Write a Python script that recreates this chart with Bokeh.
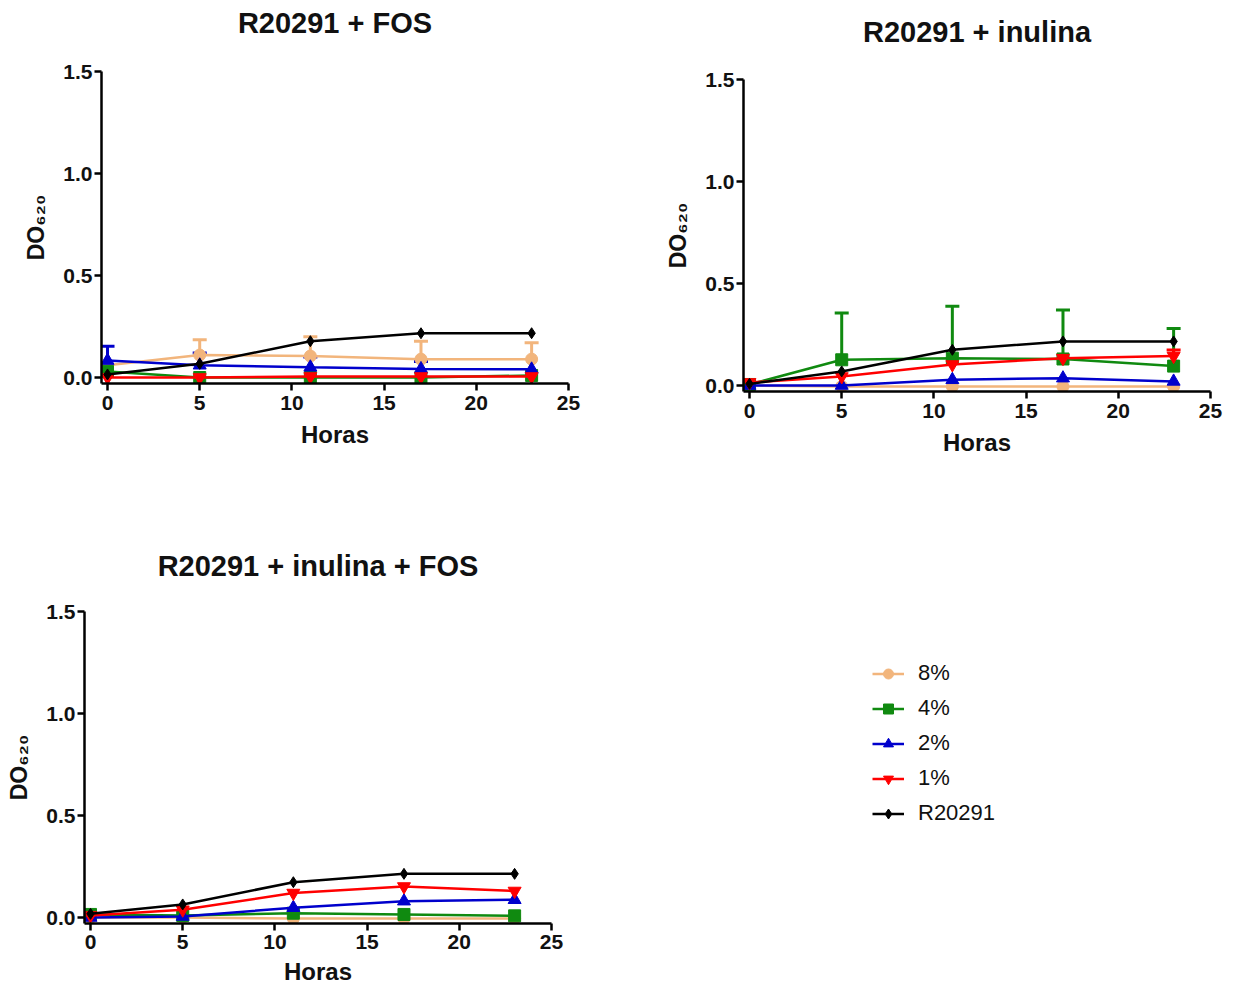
from bokeh.plotting import figure
from bokeh.models import (Range1d, Legend, LegendItem, Whisker, TeeHead, Title,
                          ColumnDataSource, FixedTicker, NumeralTickFormatter, Spacer)
from bokeh.layouts import column, row
from bokeh.embed import file_html
from bokeh.resources import INLINE

# ---------------- data ----------------
hours = [0, 5, 11, 17, 23]
series_labels = ["8%", "4%", "2%", "1%", "R20291"]
x_ticks = [0, 5, 10, 15, 20, 25]
y_ticks = [0.0, 0.5, 1.0, 1.5]

# R20291 + FOS
fos_8 = [0.06, 0.11, 0.105, 0.09, 0.09]
fos_4 = [0.03, 0.0, 0.0, 0.0, 0.01]
fos_2 = [0.083, 0.06, 0.05, 0.042, 0.04]
fos_1 = [0.0, 0.0, 0.005, 0.005, 0.005]
fos_ctrl = [0.015, 0.067, 0.178, 0.217, 0.217]
fos_8_sd = [0.0, 0.075, 0.095, 0.088, 0.08]
fos_4_sd = [0.0, 0.0, 0.0, 0.0, 0.0]
fos_2_sd = [0.07, 0.06, 0.05, 0.036, 0.0]
fos_1_sd = [0.0, 0.0, 0.0, 0.0, 0.0]
fos_ctrl_sd = [0.0, 0.0, 0.0, 0.0, 0.0]

# R20291 + inulina
inu_8 = [0.0, -0.005, -0.005, -0.005, -0.005]
inu_4 = [0.005, 0.126, 0.134, 0.13, 0.095]
inu_2 = [0.0, 0.0, 0.028, 0.036, 0.02]
inu_1 = [0.015, 0.044, 0.103, 0.134, 0.144]
inu_ctrl = [0.008, 0.069, 0.175, 0.216, 0.216]
inu_8_sd = [0.0, 0.0, 0.0, 0.0, 0.0]
inu_4_sd = [0.0, 0.23, 0.255, 0.24, 0.185]
inu_2_sd = [0.0, 0.0, 0.0, 0.0, 0.0]
inu_1_sd = [0.0, 0.0, 0.0, 0.0, 0.03]
inu_ctrl_sd = [0.0, 0.0, 0.0, 0.0, 0.0]

# R20291 + inulina + FOS
mix_8 = [0.0, 0.0, -0.005, -0.005, -0.005]
mix_4 = [0.015, 0.01, 0.021, 0.015, 0.008]
mix_2 = [0.0, 0.005, 0.048, 0.08, 0.087]
mix_1 = [0.01, 0.038, 0.12, 0.152, 0.13]
mix_ctrl = [0.018, 0.064, 0.173, 0.214, 0.214]
mix_sd_none = [0.0, 0.0, 0.0, 0.0, 0.0]

colors = ["#F2B57C", "#108A10", "#0000CC", "#FF0000", "#000000"]
markers = ["circle", "square", "triangle", "inverted_triangle", "diamond"]
msizes = [12, 12, 13, 13, 11]

FONT = "Liberation Sans"
PX_X = 18.4   # px per hour
PX_Y = 204.0  # px per OD unit
PAD = 6
FRAME_W = 467
FRAME_H = 312
TOP_B = 71


def make_panel(title, values, sds, left, right, bottom,
               lab_standoff=5, axlab_standoff=8, gap=28):
    p = figure(frame_width=FRAME_W, frame_height=FRAME_H,
               x_range=Range1d(-PAD / PX_X, 25),
               y_range=Range1d(-PAD / PX_Y, 1.5),
               output_backend="svg", toolbar_location=None,
               min_border_left=left, min_border_top=TOP_B,
               min_border_right=right, min_border_bottom=bottom)
    p.outline_line_color = None
    p.xgrid.visible = False
    p.ygrid.visible = False
    p.title.text = title
    p.title.align = "center"
    p.title.text_font = FONT
    p.title.text_font_style = "bold"
    p.title.text_font_size = "29px"
    p.title.text_color = "#111111"
    p.title.standoff = 2
    # blank spacer between frame and title
    p.add_layout(Title(text=" ", text_font_size="1px", standoff=gap), "above")

    for ax in (p.xaxis[0], p.yaxis[0]):
        ax.axis_line_width = 2.5
        ax.major_tick_line_width = 2.5
        ax.major_tick_out = 7
        ax.major_tick_in = 0
        ax.minor_tick_line_color = None
        ax.major_label_text_font = FONT
        ax.major_label_text_font_style = "bold"
        ax.major_label_text_font_size = "21px"
        ax.major_label_text_color = "#111111"
        ax.axis_label_text_font = FONT
        ax.axis_label_text_font_style = "bold"
        ax.axis_label_text_font_size = "24px"
        ax.axis_label_text_color = "#111111"
    p.xaxis.ticker = FixedTicker(ticks=x_ticks)
    p.yaxis.ticker = FixedTicker(ticks=y_ticks)
    p.yaxis.formatter = NumeralTickFormatter(format="0.0")
    p.xaxis.axis_label = "Horas"
    p.yaxis.axis_label = "DO₆₂₀"
    p.yaxis.axis_label_text_font_size = "23px"
    p.xaxis.major_label_standoff = lab_standoff
    p.yaxis.major_label_standoff = 2
    p.xaxis.axis_label_standoff = axlab_standoff
    p.yaxis.axis_label_standoff = 11

    rends = []
    for vals, sd, col, mk, ms in zip(values, sds, colors, markers, msizes):
        ex = [h for h, s in zip(hours, sd) if s > 0]
        lo = [v for v, s in zip(vals, sd) if s > 0]
        up = [v + s for v, s in zip(vals, sd) if s > 0]
        if ex:
            src = ColumnDataSource(dict(x=ex, lo=lo, up=up))
            w = Whisker(base="x", lower="lo", upper="up", source=src,
                        line_color=col, line_width=3,
                        upper_head=TeeHead(size=14, line_color=col, line_width=3),
                        lower_head=None)
            p.add_layout(w)
        l = p.line(hours, vals, line_color=col, line_width=2.5)
        s = p.scatter(hours, vals, marker=mk, size=ms, fill_color=col,
                      line_color=col)
        rends.append((l, s))
    return p, rends


TOP_H = 467
P2_SHIFT = 8
p1, r1 = make_panel("R20291 + FOS",
                    [fos_8, fos_4, fos_2, fos_1, fos_ctrl],
                    [fos_8_sd, fos_4_sd, fos_2_sd, fos_1_sd, fos_ctrl_sd],
                    left=101, right=620 - 101 - FRAME_W,
                    bottom=TOP_H - TOP_B - FRAME_H, gap=29)
p2, r2 = make_panel("R20291 + inulina",
                    [inu_8, inu_4, inu_2, inu_1, inu_ctrl],
                    [inu_8_sd, inu_4_sd, inu_2_sd, inu_1_sd, inu_ctrl_sd],
                    left=743 - 620, right=617 - (743 - 620) - FRAME_W,
                    bottom=TOP_H - P2_SHIFT - TOP_B - FRAME_H, gap=28)
P3_TOP = 611 - TOP_H
BOT_H = 987 - TOP_H
p3, r3 = make_panel("R20291 + inulina + FOS",
                    [mix_8, mix_4, mix_2, mix_1, mix_ctrl],
                    [mix_sd_none] * 5,
                    left=84, right=620 - 84 - FRAME_W,
                    bottom=BOT_H - P3_TOP - FRAME_H,
                    lab_standoff=4, axlab_standoff=6, gap=26)
p3.min_border_top = P3_TOP

# legend panel: same series, drawn outside its visible range so only the key shows
pl = figure(frame_width=617, frame_height=FRAME_H, x_range=Range1d(100, 200),
            y_range=Range1d(100, 200), x_axis_type=None, y_axis_type=None,
            output_backend="svg", toolbar_location=None,
            min_border_left=0, min_border_right=0, min_border_top=P3_TOP,
            min_border_bottom=BOT_H - P3_TOP - FRAME_H)
pl.outline_line_color = None
pl.xgrid.visible = False
pl.ygrid.visible = False
items = []
for lab, vals, col, mk, ms in zip(series_labels,
                                  [mix_8, mix_4, mix_2, mix_1, mix_ctrl],
                                  colors, markers, msizes):
    l = pl.line(hours, vals, line_color=col, line_width=2.5)
    s = pl.scatter(hours, vals, marker=mk, size=ms - 1, fill_color=col,
                   line_color=col)
    items.append(LegendItem(label=lab, renderers=[l, s]))

legend = Legend(items=items, location=(252, (611 + FRAME_H) - 826),
                orientation="vertical",
                border_line_color=None, background_fill_alpha=0,
                label_text_font=FONT, label_text_font_size="22px",
                label_text_color="#111111",
                glyph_width=32, glyph_height=25, label_height=25,
                label_standoff=14, spacing=9, padding=0, margin=0)
pl.add_layout(legend, "center")

layout = column(row(p1, column(Spacer(height=P2_SHIFT, width=10), p2, spacing=0),
                    spacing=0),
                row(p3, pl, spacing=0), spacing=0)
open("out.html", "w").write(file_html(layout, INLINE))
